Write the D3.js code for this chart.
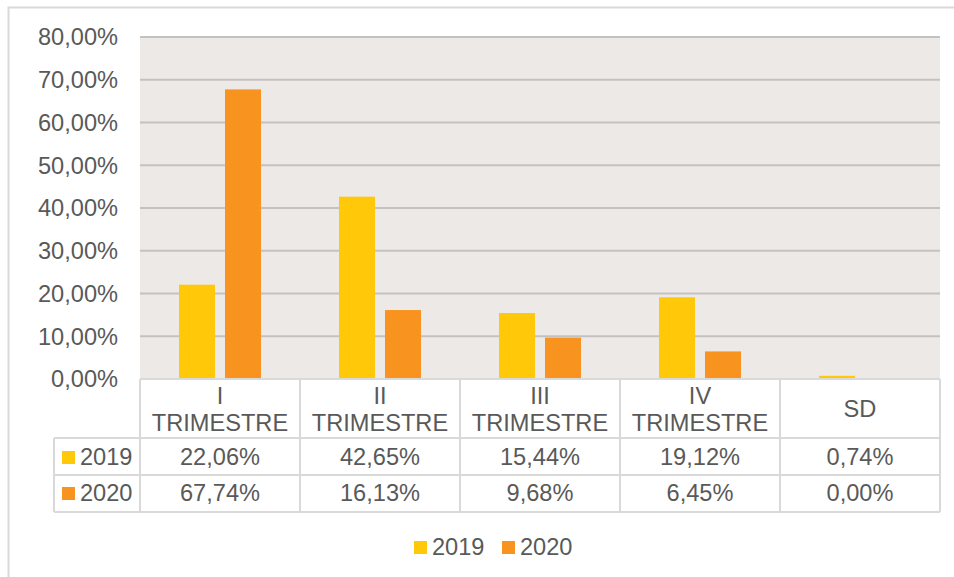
<!DOCTYPE html>
<html>
<head>
<meta charset="utf-8">
<script src="https://cdn.jsdelivr.net/npm/d3@7"></script>
<style>
  body { margin: 0; background: #fff; }
  svg { display: block; font-family: "Liberation Sans", Arial, sans-serif; }
</style>
</head>
<body>
<div class="chart"></div>
<script>
(function() {

    var
        categories = ["I\nTRIMESTRE", "II\nTRIMESTRE", "III\nTRIMESTRE", "IV\nTRIMESTRE", "SD"],
        seriesNames = ["2019", "2020"],
        values2019 = [22.06, 42.65, 15.44, 19.12, 0.74],
        values2020 = [67.74, 16.13, 9.68, 6.45, 0.00],
        yTicks = [0, 10, 20, 30, 40, 50, 60, 70, 80],
        colors = ["#FFC90A", "#F7931E"];

    var
        width = 954,
        height = 577,
        left = 140,
        right = 940,
        top = 37,
        bottom = 379,
        textColor = "#595959",
        lineColor = "#D9D9D9",
        fontSize = 23.6;

    var svg = d3.select('.chart').append('svg')
        .attr("width", width)
        .attr("height", height);

    // outer frame
    svg.append("rect")
        .attr("x", 8.5).attr("y", 7.5)
        .attr("width", 980).attr("height", 600)
        .attr("fill", "#fff")
        .attr("stroke", lineColor)
        .attr("stroke-width", 2);

    var x = d3.scaleBand()
        .domain(d3.range(categories.length))
        .range([left, right]);

    var y = d3.scaleLinear()
        .domain([0, 80])
        .range([bottom, top]);

    var fmt = function(v) { return v.toFixed(2).replace(".", ",") + "%"; };

    // plot background
    svg.append("rect")
        .attr("x", left).attr("y", top)
        .attr("width", right - left).attr("height", bottom - top)
        .attr("fill", "#EDE9E6");

    // grid
    svg.selectAll("line.grid")
        .data(yTicks)
        .enter()
        .append("line")
        .attr("class", "grid")
        .attr("x1", left).attr("x2", right)
        .attr("y1", function(d){ return y(d); })
        .attr("y2", function(d){ return y(d); })
        .attr("stroke", "#C4C2C0")
        .attr("stroke-width", 2);

    // y axis labels
    svg.selectAll("text.ytick")
        .data(yTicks)
        .enter()
        .append("text")
        .attr("class", "ytick")
        .attr("x", 118)
        .attr("y", function(d){ return y(d); })
        .attr("dy", "0.35em")
        .attr("text-anchor", "end")
        .attr("font-size", fontSize)
        .attr("fill", textColor)
        .text(function(d){ return fmt(d); });

    // bars
    var series = [values2019, values2020];
    var barW = 36, gap = 10;

    series.forEach(function(vals, s) {
        svg.selectAll("rect.bar" + s)
            .data(vals)
            .enter()
            .append("rect")
            .attr("class", "bar" + s)
            .attr("x", function(d, i){
                return x(i) + x.bandwidth() / 2 - gap / 2 - barW + s * (barW + gap);
            })
            .attr("width", barW)
            .attr("y", function(d){ return y(d); })
            .attr("height", function(d){ return y(0) - y(d); })
            .attr("fill", colors[s]);
    });

    // data table
    var
        rowBottom = 512,
        keyLeft = 54;

    var table = svg.append("g")
        .attr("stroke", lineColor)
        .attr("stroke-width", 2);

    table.append("line").attr("x1", left).attr("x2", right).attr("y1", bottom).attr("y2", bottom);
    [438, 475, rowBottom].forEach(function(yy) {
        table.append("line").attr("x1", keyLeft).attr("x2", right).attr("y1", yy).attr("y2", yy);
    });
    d3.range(categories.length + 1).forEach(function(i) {
        var xx = i < categories.length ? x(i) : right;
        table.append("line").attr("x1", xx).attr("x2", xx).attr("y1", bottom).attr("y2", rowBottom);
    });
    table.append("line").attr("x1", keyLeft).attr("x2", keyLeft).attr("y1", 438).attr("y2", rowBottom);

    // header labels
    categories.forEach(function(c, i) {
        var lines = c.split("\n");
        var cx = x(i) + x.bandwidth() / 2;
        var t = svg.append("text")
            .attr("text-anchor", "middle")
            .attr("font-size", fontSize)
            .attr("fill", textColor);
        var startY = lines.length === 1 ? 409 : 396;
        lines.forEach(function(l, k) {
            t.append("tspan")
                .attr("x", cx)
                .attr("y", startY + k * 27)
                .attr("dy", "0.35em")
                .text(l);
        });
    });

    // rows
    var rowMid = [457, 493];
    series.forEach(function(vals, s) {
        svg.append("rect")
            .attr("x", 62).attr("y", rowMid[s] - 6)
            .attr("width", 13).attr("height", 13)
            .attr("fill", colors[s]);
        svg.append("text")
            .attr("x", 80).attr("y", rowMid[s])
            .attr("dy", "0.35em")
            .attr("font-size", fontSize)
            .attr("fill", textColor)
            .text(seriesNames[s]);
        svg.selectAll("text.val" + s)
            .data(vals)
            .enter()
            .append("text")
            .attr("class", "val" + s)
            .attr("x", function(d, i){ return x(i) + x.bandwidth() / 2; })
            .attr("y", rowMid[s])
            .attr("dy", "0.35em")
            .attr("text-anchor", "middle")
            .attr("font-size", fontSize)
            .attr("fill", textColor)
            .text(function(d){ return fmt(d); });
    });

    // legend
    var legendX = [414, 502];
    seriesNames.forEach(function(n, s) {
        svg.append("rect")
            .attr("x", legendX[s]).attr("y", 541)
            .attr("width", 13).attr("height", 13)
            .attr("fill", colors[s]);
        svg.append("text")
            .attr("x", legendX[s] + 18).attr("y", 547)
            .attr("dy", "0.35em")
            .attr("font-size", fontSize)
            .attr("fill", textColor)
            .text(n);
    });
})();
</script>
</body>
</html>
